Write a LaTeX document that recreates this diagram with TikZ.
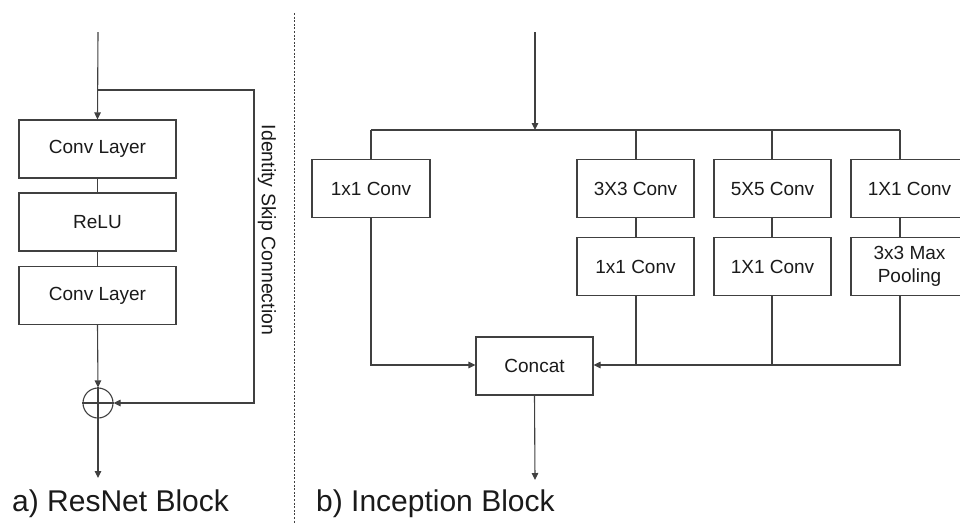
\documentclass[tikz,border=0pt]{standalone}
\usepackage{fontspec}
\setmainfont{Liberation Sans}
\usetikzlibrary{arrows.meta}
\definecolor{linegray}{HTML}{404040}
\definecolor{inkgray}{HTML}{1A1A1A}
\begin{document}
\begin{tikzpicture}[x=1pt,y=-1pt,
  every node/.style={text=inkgray},
  blockbox/.style={draw=linegray, line width=1.1pt, minimum width=117pt,
    minimum height=58pt, inner sep=0pt, align=center,
    font=\fontsize{19}{21}\selectfont},
  wire/.style={draw=linegray, line width=1.1pt},
  arr/.style={wire, -{Triangle[length=7pt,width=6.5pt]}},
  caption/.style={anchor=base west, inner sep=0pt,
    font=\fontsize{30}{34}\selectfont}]
\useasboundingbox (0,0) rectangle (960,523);

% ---------- a) ResNet block ----------
\node[blockbox, minimum width=157pt] (conv1) at (97.5,149) {Conv Layer};
\node[blockbox, minimum width=157pt] (relu)  at (97.5,222) {ReLU};
\node[blockbox, minimum width=157pt] (conv2) at (97.5,295.5) {Conv Layer};
\node[draw=linegray, line width=1.1pt, circle, minimum size=30pt, inner sep=0pt] (plus) at (98,403) {};

\coordinate (inA)   at (98,32);
\coordinate (split) at (98,90);
\coordinate (skipc) at (254,90);
\coordinate (outA)  at (98,478);

\draw[arr] (inA) -- (conv1.north);
\draw[arr] (split) -- (skipc) |- (plus.east);
\draw[wire] (conv1.south) -- (relu.north);
\draw[wire] (relu.south) -- (conv2.north);
\draw[arr] (conv2.south) -- (plus.north);
\draw[wire] (plus.west) -- (plus.east);
\draw[arr] (plus.north) -- (outA);

\node[rotate=-90, font=\fontsize{19.5}{22}\selectfont] (skiplbl) at (267,230) {Identity Skip Connection};

\node[caption] (capA) at (12,511) {a) ResNet Block};

% separator
\coordinate (sepT) at (294,13);
\coordinate (sepB) at (294,523);
\draw[linegray, line width=0.9pt, dash pattern=on 2pt off 1.6pt] (sepT) -- (sepB);

% ---------- b) Inception block ----------
\coordinate (inB)  at (535,32);
\coordinate (fork) at (535,130);
\coordinate (outB) at (535,480);

\node[blockbox, minimum width=118pt] (c1)   at (371,188.5) {1x1 Conv};
\node[blockbox] (c3)   at (635.5,188.5) {3X3 Conv};
\node[blockbox] (c5)   at (772.5,188.5) {5X5 Conv};
\node[blockbox] (c1b)  at (909.5,188.5) {1X1 Conv};
\node[blockbox] (r3)   at (635.5,266.5) {1x1 Conv};
\node[blockbox] (r5)   at (772.5,266.5) {1X1 Conv};
\node[blockbox] (pool) at (909.5,266.5) {3x3 Max\\[1.5pt]Pooling};
\node[blockbox] (concat) at (534.5,366) {Concat};

\coordinate (t1) at (371,130);
\coordinate (t3) at (636,130);
\coordinate (t5) at (772,130);
\coordinate (tp) at (900,130);
\coordinate (b3) at (636,365);
\coordinate (b5) at (772,365);
\coordinate (bp) at (900,365);
\coordinate (b1) at (371,365);

\draw[arr] (inB) -- (fork);
\draw[wire] (t1) -- (tp);
\draw[wire] (t1) -- (t1 |- c1.north);
\draw[wire] (t3) -- (t3 |- c3.north);
\draw[wire] (t5) -- (t5 |- c5.north);
\draw[wire] (tp) -- (tp |- c1b.north);

\draw[wire] (t3 |- c3.south) -- (t3 |- r3.north);
\draw[wire] (t5 |- c5.south) -- (t5 |- r5.north);
\draw[wire] (tp |- c1b.south) -- (tp |- pool.north);

\draw[arr] (t1 |- c1.south) -- (b1) -- (b1 -| concat.west);
\draw[wire] (t3 |- r3.south) -- (b3);
\draw[wire] (t5 |- r5.south) -- (b5);
\draw[arr] (tp |- pool.south) -- (bp) -- (bp -| concat.east);
\draw[arr] (concat.south) -- (outB);

\node[caption] (capB) at (316,511) {b) Inception Block};
\end{tikzpicture}
\end{document}
